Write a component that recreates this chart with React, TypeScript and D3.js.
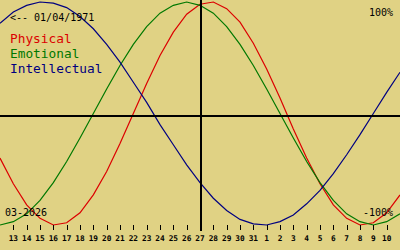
import React from "react";
import * as d3 from "d3";

const dayLabels = [
  "12", "13", "14", "15", "16", "17", "18", "19", "20", "21", "22", "23", "24", "25", "26", "27",
  "28", "29", "30", "31", "1", "2", "3", "4", "5", "6", "7", "8", "9", "10", "11",
];

const physical = [
  -0.4, -0.63, -0.82, -0.94, -1.0, -0.98, -0.89, -0.73, -0.52, -0.27, 0, 0.27, 0.52, 0.73, 0.89, 0.98,
  1.0, 0.94, 0.82, 0.63, 0.4, 0.14, -0.14, -0.4, -0.63, -0.82, -0.94, -1.0, -0.98, -0.89, -0.73,
];

const emotional = [
  -1.0, -0.97, -0.9, -0.78, -0.62, -0.43, -0.22, 0, 0.22, 0.43, 0.62, 0.78, 0.9, 0.97, 1.0, 0.97,
  0.9, 0.78, 0.62, 0.43, 0.22, 0, -0.22, -0.43, -0.62, -0.78, -0.9, -0.97, -1.0, -0.97, -0.9,
];

const intellectual = [
  0.81, 0.91, 0.97, 1.0, 0.99, 0.95, 0.87, 0.76, 0.62, 0.46, 0.28, 0.1, -0.1, -0.28, -0.46, -0.62,
  -0.76, -0.87, -0.95, -0.99, -1.0, -0.97, -0.91, -0.81, -0.69, -0.54, -0.37, -0.19, 0, 0.19, 0.37,
];

const seriesNames = ["Physical", "Emotional", "Intellectual"];
const birthLabel = "<-- 01/04/1971";
const monthLabel = "03-2026";
const topLabel = "100%";
const bottomLabel = "-100%";

const W = 400;
const H = 250;
const colors = ["#dc0000", "#007800", "#000080"];
const mono = "'DejaVu Sans Mono', 'Liberation Mono', monospace";

export default function App() {
  const x = d3.scaleLinear().domain([0, dayLabels.length - 1]).range([0, W]);
  const y = d3.scaleLinear().domain([-1, 1]).range([225, 2]);
  const line = d3
    .line<number>()
    .x((_, i) => x(i))
    .y((v) => y(v))
    .curve(d3.curveLinear);
  const series = [physical, emotional, intellectual];
  const centerIdx = Math.floor(dayLabels.length / 2);

  return (
    <svg
      width={W}
      height={H}
      style={{ position: "fixed", left: 0, top: 0, display: "block" }}
    >
      <rect x={0} y={0} width={W} height={H} fill="#e0d284" />
      {series.map((s, i) => (
        <path key={i} d={line(s) || ""} fill="none" stroke={colors[i]} strokeWidth={1.2} />
      ))}
      <line x1={0} x2={W} y1={116} y2={116} stroke="#000" strokeWidth={2} shapeRendering="crispEdges" />
      <line
        x1={x(centerIdx) + 1}
        x2={x(centerIdx) + 1}
        y1={0}
        y2={231}
        stroke="#000"
        strokeWidth={2}
        shapeRendering="crispEdges"
      />
      {dayLabels.map((d, i) =>
        i === 0 || i === dayLabels.length - 1 ? null : (
          <g key={i}>
            <line
              x1={Math.round(x(i)) + 0.5}
              x2={Math.round(x(i)) + 0.5}
              y1={225}
              y2={230}
              stroke="#000"
              strokeWidth={1}
              shapeRendering="crispEdges"
            />
            <text
              x={x(i)}
              y={241}
              textAnchor="middle"
              fontFamily={mono}
              fontWeight="bold"
              fontSize={7.8}
              fill="#000"
            >
              {d}
            </text>
          </g>
        )
      )}
      <text x={10} y={21} fontFamily={mono} fontSize={10} fill="#000">
        {birthLabel}
      </text>
      <text x={393} y={16} textAnchor="end" fontFamily={mono} fontSize={10} fill="#000">
        {topLabel}
      </text>
      <text x={393} y={216} textAnchor="end" fontFamily={mono} fontSize={10} fill="#000">
        {bottomLabel}
      </text>
      <text x={5} y={216} fontFamily={mono} fontSize={10} fill="#000">
        {monthLabel}
      </text>
      {seriesNames.map((n, i) => (
        <text key={n} x={10} y={42.5 + i * 15} fontFamily={mono} fontSize={12.8} fill={colors[i]}>
          {n}
        </text>
      ))}
    </svg>
  );
}
